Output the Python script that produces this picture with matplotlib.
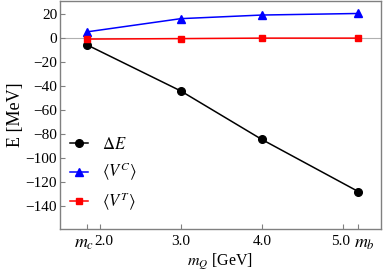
import numpy as np
import matplotlib
matplotlib.use('Agg')
import matplotlib.pyplot as plt
import matplotlib.transforms as mtransforms

# Masas de los quarks pesados (GeV)
m_Q = [1.84, 3.0, 4.0, 5.19]

# Energias (MeV)
delta_E = [-5.8, -44.2, -84.5, -127.8]
V_C = [5.0, 16.0, 19.0, 20.3]
V_T = [-1.0, -0.6, -0.2, -0.2]

x_ticks = [1.84, 2.0, 3.0, 4.0, 5.0, 5.19]
x_labels = [r'$m_c$', '2.0', '3.0', '4.0', '5.0', r'$m_b$']
y_ticks = [20, 0, -20, -40, -60, -80, -100, -120, -140]

plt.rcParams['font.family'] = ['Liberation Serif', 'DejaVu Serif']
plt.rcParams['mathtext.fontset'] = 'stix'

fig = plt.figure(figsize=(3.84, 2.73), dpi=100)
ax = fig.add_axes([0.156, 0.161, 0.836, 0.835])

ax.axhline(0, color='#b0b0b0', linewidth=0.8, zorder=0)

ax.plot(m_Q, delta_E, 'k-', marker='o', markersize=5.5, linewidth=1.1, label=r'$\Delta E$')
ax.plot(m_Q, V_C, '-', color='#0000ff', marker='^', markersize=5.5, linewidth=1.1,
        label=r'$\langle V^C\rangle$')
ax.plot(m_Q, V_T, '-', color='#ff0000', marker='s', markersize=4.5, linewidth=1.1,
        label=r'$\langle V^T\rangle$')

ax.set_xlim(1.506, 5.47)
ax.set_ylim(-159, 30.6)
ax.set_xticks(x_ticks)
ax.set_xticklabels(x_labels)
ax.set_yticks(y_ticks)
ax.set_yticklabels([str(v).replace('-', '\u2212') for v in y_ticks])

ax.tick_params(direction='in', length=3.5, width=0.8, color='#808080', labelsize=11)
ax.tick_params(axis='x', pad=4)
ax.tick_params(axis='y', pad=2)

# separar un poco las etiquetas m_c / 2.0 y 5.0 / m_b
shifts = [-2.5, 3.5, 0, 0, -2, 6]
for lab, dx in zip(ax.get_xticklabels(), shifts):
    if lab.get_text().startswith('$'):
        lab.set_fontsize(13)
    lab.set_transform(lab.get_transform() +
                      mtransforms.ScaledTranslation(dx / 100, 0, fig.dpi_scale_trans))

for sp in ax.spines.values():
    sp.set_color('#808080')
    sp.set_linewidth(1.0)

ax.set_xlabel(r'$m_Q$ [GeV]', fontsize=11.5, labelpad=0)
ax.set_ylabel('E [MeV]', fontsize=13, labelpad=1)

ax.legend(loc='lower left', bbox_to_anchor=(-0.015, 0.005), frameon=False, fontsize=12,
          handlelength=1.1, labelspacing=0.45, handletextpad=0.8)

fig.savefig('out.png', dpi=100)
